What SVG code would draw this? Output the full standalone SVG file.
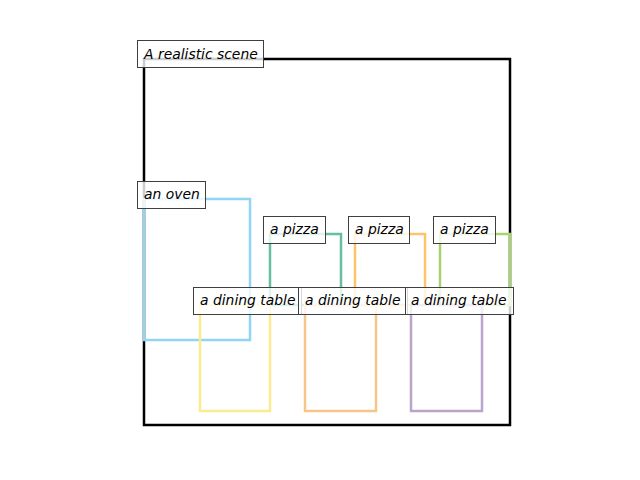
<svg xmlns="http://www.w3.org/2000/svg" width="640" height="480" viewBox="0 0 640 480">
<style>
.b{fill:none;stroke-width:2.5;stroke-linejoin:miter}
.lb{fill:#ffffff;fill-opacity:0.8;stroke:#3f3f3f;stroke-width:1}
.t{font-family:"DejaVu Sans",sans-serif;font-style:italic;font-size:13.9px;fill:#000}
</style>
<rect width="640" height="480" fill="#ffffff"/>
<g id="connectors"></g>
<g id="scene"><rect class="b" x="144" y="59" width="366" height="366" stroke="#000000"/></g>
<g id="oven"><rect class="b" x="144" y="199" width="106" height="141" stroke="#92d4f4"/></g>
<g id="pizza1"><rect class="b" x="270" y="234" width="71" height="71" stroke="#66bfa0"/></g>
<g id="pizza2"><rect class="b" x="355" y="234" width="70" height="71" stroke="#fdc46a"/></g>
<g id="pizza3"><rect class="b" x="440" y="234" width="70" height="71" stroke="#a8d46f"/></g>
<g id="table1"><rect class="b" x="200" y="305" width="70" height="106" stroke="#fbeb8f"/></g>
<g id="table2"><rect class="b" x="305" y="305" width="71" height="106" stroke="#f7c587"/></g>
<g id="table3"><rect class="b" x="411" y="305" width="71" height="106" stroke="#b9a4cc"/></g>
<g id="label-scene"><rect class="lb" x="137.5" y="40.5" width="126" height="27"/><text class="t" x="144" y="59">A realistic scene</text></g>
<g id="label-oven"><rect class="lb" x="137.5" y="181.5" width="68" height="27"/><text class="t" x="144" y="199">an oven</text></g>
<g id="label-pizza1"><rect class="lb" x="263.5" y="216.5" width="62" height="27"/><text class="t" x="270" y="234">a pizza</text></g>
<g id="label-pizza2"><rect class="lb" x="348.5" y="216.5" width="61" height="27"/><text class="t" x="355" y="234">a pizza</text></g>
<g id="label-pizza3"><rect class="lb" x="433.5" y="216.5" width="62" height="27"/><text class="t" x="440" y="234">a pizza</text></g>
<g id="label-table1"><rect class="lb" x="193.5" y="287.5" width="108" height="27"/><text class="t" x="200" y="305">a dining table</text></g>
<g id="label-table2"><rect class="lb" x="298.5" y="287.5" width="109" height="27"/><text class="t" x="305" y="305">a dining table</text></g>
<g id="label-table3"><rect class="lb" x="405.5" y="287.5" width="108" height="27"/><text class="t" x="411" y="305">a dining table</text></g>
</svg>
